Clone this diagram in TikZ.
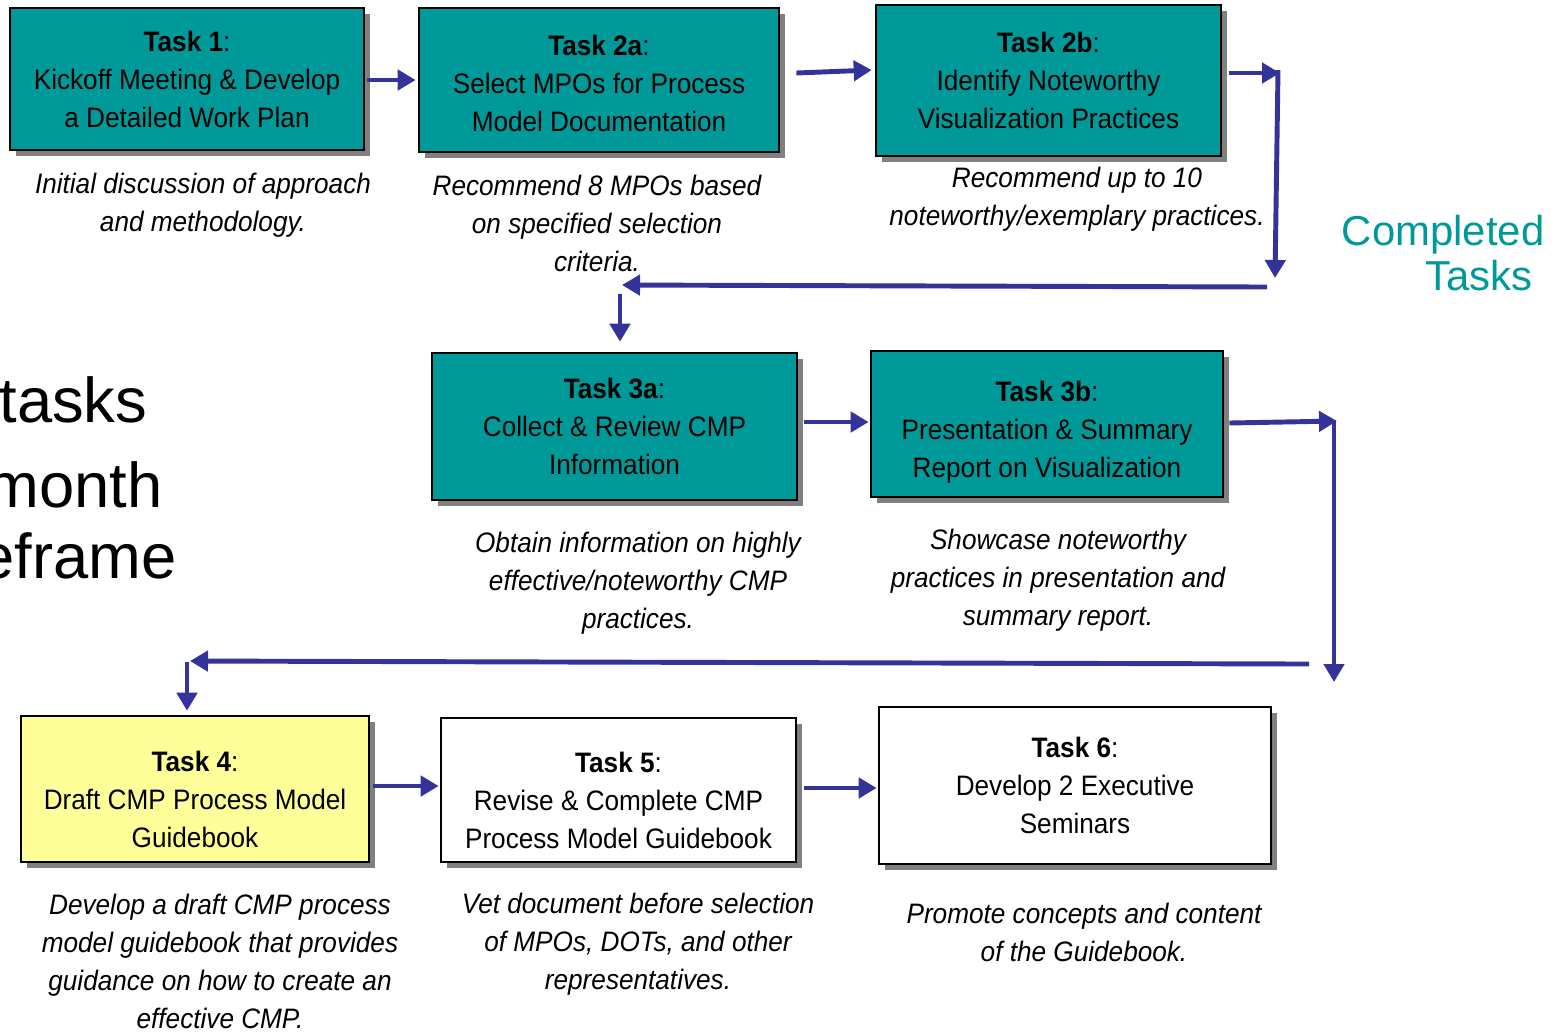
\documentclass[tikz,border=0pt]{standalone}
\usepackage{fontspec}
\setmainfont{Liberation Sans}
\newfontfamily\narrowfont[FakeStretch=0.93]{Liberation Sans}
\usepackage{tikz}
\usetikzlibrary{shapes,arrows,positioning,calc,shadows}
\usetikzlibrary{arrows.meta}
\definecolor{taskteal}{HTML}{009999}
\definecolor{taskyellow}{HTML}{FFFF99}
\definecolor{flowblue}{HTML}{333399}
\newcommand{\topgap}[1]{\rule{0pt}{#1}}

\begin{document}
\begin{tikzpicture}[x=0.01cm,y=-0.01cm,
  task/.style={draw=black, line width=0.7pt, inner sep=0pt, align=center,
    font=\narrowfont\fontsize{8}{10.8}\selectfont,
    drop shadow={shadow xshift=0.06cm, shadow yshift=-0.06cm, fill=gray, opacity=1}},
  note/.style={align=center, font=\narrowfont\itshape\fontsize{8}{10.8}\selectfont},
  flow/.style={draw=flowblue, line width=1.4pt, -{Triangle[length=0.18cm,width=0.2cm]}},
  bigword/.style={anchor=base east, inner sep=0pt, font=\fontsize{18}{20}\selectfont},
  donetext/.style={anchor=base east, inner sep=0pt, text=taskteal, font=\fontsize{11.9}{14}\selectfont}]
  \useasboundingbox (0,0) rectangle (1564,1032);

  % completed tasks
  \node[task, fill=taskteal, minimum width=3.54cm, minimum height=1.42cm] (t1) at (187,79)
    {\textbf{Task 1}:\\Kickoff Meeting \& Develop\\a Detailed Work Plan};
  \node[task, fill=taskteal, minimum width=3.60cm, minimum height=1.44cm] (t2a) at (599,80)
    {\topgap{7.5pt}\textbf{Task 2a}:\\Select MPOs for Process\\Model Documentation};
  \node[task, fill=taskteal, minimum width=3.45cm, minimum height=1.51cm] (t2b) at (1048.5,80.5)
    {\textbf{Task 2b}:\\Identify Noteworthy\\Visualization Practices};
  \node[task, fill=taskteal, minimum width=3.65cm, minimum height=1.47cm] (t3a) at (614.5,426.5)
    {\textbf{Task 3a}:\\Collect \& Review CMP\\Information};
  \node[task, fill=taskteal, minimum width=3.52cm, minimum height=1.46cm] (t3b) at (1047,424)
    {\topgap{10.5pt}\textbf{Task 3b}:\\Presentation \& Summary\\Report on Visualization};

  % remaining tasks
  \node[task, fill=taskyellow, minimum width=3.48cm, minimum height=1.46cm] (t4) at (195,789)
    {\topgap{11.5pt}\textbf{Task 4}:\\Draft CMP Process Model\\Guidebook};
  \node[task, fill=white, minimum width=3.55cm, minimum height=1.44cm] (t5) at (618.5,790)
    {\topgap{11.5pt}\textbf{Task 5}:\\Revise \& Complete CMP\\Process Model Guidebook};
  \node[task, fill=white, minimum width=3.92cm, minimum height=1.57cm] (t6) at (1075,785.5)
    {\textbf{Task 6}:\\Develop 2 Executive\\Seminars};

  % descriptions
  \node[note] (n1) at (203,205) {Initial discussion of approach\\and methodology.};
  \node[note] (n2a) at (597,223) {Recommend 8 MPOs based\\on specified selection\\criteria.};
  \node[note] (n2b) at (1077,199) {Recommend up to 10\\noteworthy/exemplary practices.};
  \node[note] (n3a) at (638,583) {Obtain information on highly\\effective/noteworthy CMP\\practices.};
  \node[note] (n3b) at (1058,580) {Showcase noteworthy\\practices in presentation and\\summary report.};
  \node[note] (n4) at (220,961) {Develop a draft CMP process\\model guidebook that provides\\guidance on how to create an\\effective CMP.};
  \node[note] (n5) at (638,944) {Vet document before selection\\of MPOs, DOTs, and other\\representatives.};
  \node[note] (n6) at (1084,932) {Promote concepts and content\\of the Guidebook.};

  % side texts
  \node[bigword] (w1) at (148,422) {tasks};
  \node[bigword] (w2) at (163,507) {month};
  \node[bigword] (w3) at (177,578) {eframe};
  \node[donetext] (done1) at (1545,245) {Completed};
  \node[donetext] (done2) at (1533,290) {Tasks};

  % turning points
  \coordinate (r1) at (1280,73);
  \coordinate (r1top) at (1278,70);
  \coordinate (r1bot) at (1275,278);
  \coordinate (b1r) at (1267,287);
  \coordinate (b1l) at (622,285);
  \coordinate (d1) at (620,294);
  \coordinate (r2) at (1337,421);
  \coordinate (r2top) at (1334,420);
  \coordinate (r2bot) at (1334,682);
  \coordinate (b2r) at (1309,664);
  \coordinate (b2l) at (190,661);
  \coordinate (d2) at (187,662);

  % arrows
  \draw[flow] ($(t1.east)+(2,1)$) -- ($(t2a.west)+(-2,0)$);
  \draw[flow] ($(t2a.east)+(16,-7)$) -- ($(t2b.west)+(-3,-10.5)$);
  \draw[flow] ($(t2b.east)+(7,-7.5)$) -- (r1);
  \draw[flow] (r1top) -- (r1bot);
  \draw[flow] (b1r) -- (b1l);
  \draw[flow] (d1) -- ($(t3a.north)+(5.5,-10)$);
  \draw[flow] ($(t3a.east)+(6,-4.5)$) -- ($(t3b.west)+(-1,-2)$);
  \draw[flow] ($(t3b.east)+(5,-1)$) -- (r2);
  \draw[flow] (r2top) -- (r2bot);
  \draw[flow] (b2r) -- (b2l);
  \draw[flow] (d2) -- ($(t4.north)+(-8,-4)$);
  \draw[flow] ($(t4.east)+(3,-3)$) -- ($(t5.west)+(-1,-4)$);
  \draw[flow] ($(t5.east)+(7,-2)$) -- ($(t6.west)+(-1,2.5)$);
\end{tikzpicture}
\end{document}
